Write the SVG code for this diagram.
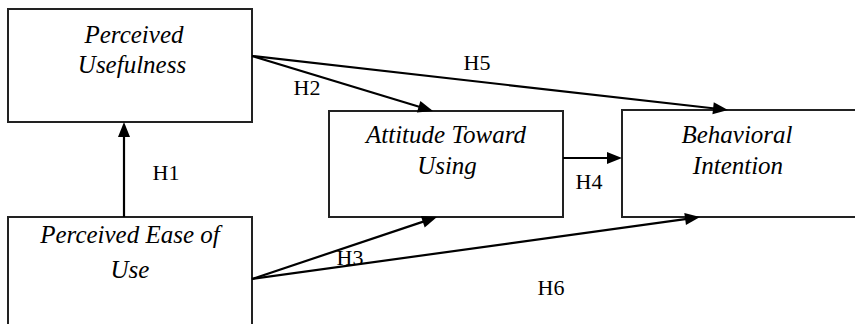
<svg xmlns="http://www.w3.org/2000/svg" width="855" height="324" viewBox="0 0 855 324">
<style>
.box{fill:#fff;stroke:#222;stroke-width:2}
.c{stroke:#000;stroke-width:2.2;fill:none}
.hd{fill:#000}
</style>
<rect width="855" height="324" fill="#fff"/>
<g id="pu"><rect class="box" x="8" y="9" width="244" height="113"/>
<text x="134" y="43" style="font-family:'Liberation Serif','Times New Roman',serif;font-style:italic;font-size:25px" text-anchor="middle">Perceived</text>
<text x="132" y="73" style="font-family:'Liberation Serif','Times New Roman',serif;font-style:italic;font-size:25px" text-anchor="middle">Usefulness</text></g>
<g id="peou"><rect class="box" x="8" y="217" width="244" height="120"/>
<text x="130" y="243" style="font-family:'Liberation Serif','Times New Roman',serif;font-style:italic;font-size:25px" text-anchor="middle">Perceived Ease of</text>
<text x="130" y="278" style="font-family:'Liberation Serif','Times New Roman',serif;font-style:italic;font-size:25px" text-anchor="middle">Use</text></g>
<g id="atu"><rect class="box" x="329" y="111" width="234" height="106"/>
<text x="446" y="143" style="font-family:'Liberation Serif','Times New Roman',serif;font-style:italic;font-size:25px" text-anchor="middle">Attitude Toward</text>
<text x="447" y="174" style="font-family:'Liberation Serif','Times New Roman',serif;font-style:italic;font-size:25px" text-anchor="middle">Using</text></g>
<g id="bi"><rect class="box" x="622" y="110" width="245" height="107"/>
<text x="737" y="143" style="font-family:'Liberation Serif','Times New Roman',serif;font-style:italic;font-size:25px" text-anchor="middle">Behavioral</text>
<text x="738" y="174" style="font-family:'Liberation Serif','Times New Roman',serif;font-style:italic;font-size:25px" text-anchor="middle">Intention</text></g>
<g id="connectors">
<line class="c" x1="124" y1="217" x2="124" y2="135"/>
<polygon class="hd" points="124,122 118,137 130,137"/>
<line class="c" x1="252" y1="56" x2="420" y2="107"/>
<polygon class="hd" points="433,111 416.91,112.38 420.39,100.90"/>
<line class="c" x1="252" y1="56" x2="715" y2="108.5"/>
<polygon class="hd" points="728,110 712.42,114.27 713.78,102.35"/>
<line class="c" x1="563" y1="158" x2="609" y2="158"/>
<polygon class="hd" points="622,158 607,152 607,164"/>
<line class="c" x1="252" y1="279" x2="424" y2="221.4"/>
<polygon class="hd" points="437,217 424.68,227.46 420.87,216.08"/>
<line class="c" x1="252" y1="279" x2="687" y2="218.8"/>
<polygon class="hd" points="700,217 685.96,225.00 684.32,213.12"/>
<text x="166" y="180" style="font-family:'Liberation Serif','Times New Roman',serif;font-size:22px" text-anchor="middle">H1</text>
<text x="307" y="95" style="font-family:'Liberation Serif','Times New Roman',serif;font-size:22px" text-anchor="middle">H2</text>
<text x="350" y="265" style="font-family:'Liberation Serif','Times New Roman',serif;font-size:22px" text-anchor="middle">H3</text>
<text x="589" y="189" style="font-family:'Liberation Serif','Times New Roman',serif;font-size:22px" text-anchor="middle">H4</text>
<text x="477" y="70" style="font-family:'Liberation Serif','Times New Roman',serif;font-size:22px" text-anchor="middle">H5</text>
<text x="551" y="295" style="font-family:'Liberation Serif','Times New Roman',serif;font-size:22px" text-anchor="middle">H6</text>
</g>
</svg>
